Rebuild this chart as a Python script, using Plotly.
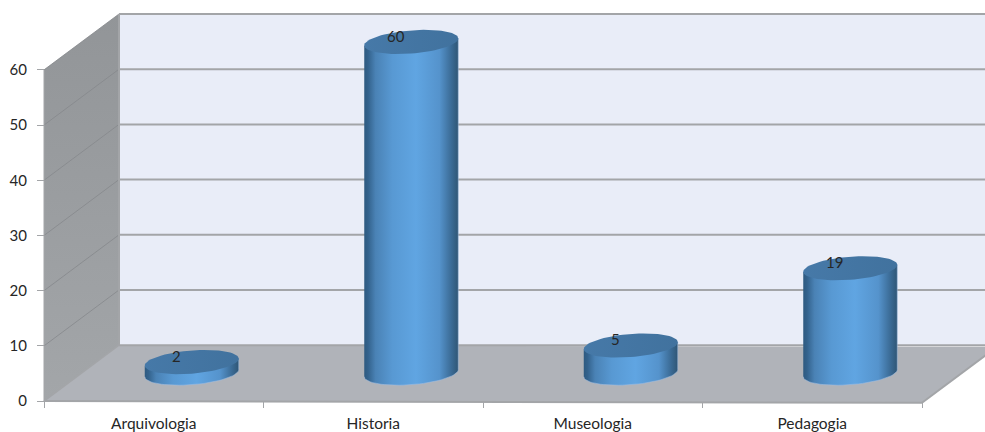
import numpy as np
import plotly.graph_objects as go

categories = ["Arquivologia", "Historia", "Museologia", "Pedagogia"]
values = [2, 60, 5, 19]
y_ticks = [0, 10, 20, 30, 40, 50, 60]

FONT = "Lato"
TEXT = "#262626"
EDGE = "#a3a5a8"

# depth of the fake 3d box, in axis units
DX = 75 / 219.5
DY = 56 / 5.533
# front edge of the floor leans a little
LEAN = -0.3
# cylinder ellipse, in axis units
RX = 47 / 219.5
RY = 11.6 / 5.533
TILT = 3.5 / 5.533

n = len(categories)
y_max = y_ticks[-1]
fig = go.Figure()


def poly(xs, ys, color=None, gradient=None, outline=None):
    trace = go.Scatter(x=xs, y=ys, mode="lines", fill="toself",
                       line=dict(width=1, color=outline) if outline else dict(width=0),
                       cliponaxis=False, hoverinfo="skip", showlegend=False)
    if gradient:
        trace.fillgradient = gradient
    else:
        trace.fillcolor = color
    fig.add_trace(trace)


def edge(xs, ys, color, width):
    fig.add_trace(go.Scatter(x=xs, y=ys, mode="lines", line=dict(color=color, width=width),
                             cliponaxis=False, hoverinfo="skip", showlegend=False))


# walls and floor
poly([DX, n + DX, n + DX, DX], [DY, DY, y_max + DY, y_max + DY], color="#e9edf8")
poly([0, DX, DX, 0], [0, DY, y_max + DY, y_max],
     gradient=dict(type="vertical", colorscale=[[0, "#a3a6a9"], [1, "#929598"]]))
poly([0, n, n + DX, DX], [0, LEAN, DY + LEAN, DY], color="#b0b3b9")

# grid lines
for v in y_ticks:
    if v > 0:
        edge([0, DX], [v, v + DY], "#85888b", 0.8)
    edge([DX, n + DX], [v + DY, v + DY], EDGE, 2)
edge([DX, DX], [DY, y_max + DY], EDGE, 2)
edge([0, DX], [0, DY], EDGE, 1.5)
edge([0, 0], [0, y_max], EDGE, 1)
edge([0, n], [0, LEAN], EDGE, 2)
edge([n, n + DX], [LEAN, DY + LEAN], EDGE, 2)

# cylinders
body_scale = [[0, "#2e5a80"], [0.04, "#33628c"], [0.12, "#4a82b5"], [0.3, "#5899d3"], [0.55, "#60a5e2"],
              [0.8, "#5593cc"], [0.93, "#3a6a94"], [1, "#2f5675"]]
top_scale = [[0, "#4679a8"], [1, "#41729e"]]
t_top = np.linspace(0, 2 * np.pi, 73)
t_low = np.linspace(np.pi, 2 * np.pi, 37)
label_x = []
label_y = []
for i, v in enumerate(values):
    cx = i + 0.5 + DX / 2 + 0.5 / 219.5
    base = DY / 2
    top = base + v
    low_x = cx + RX * np.cos(t_low)
    low_y = base + RY * np.sin(t_low) + TILT * np.cos(t_low)
    poly(list(low_x) + [cx + RX, cx - RX], list(low_y) + [top + TILT, top - TILT],
         gradient=dict(type="horizontal", colorscale=body_scale), outline="rgba(160,190,225,0.55)")
    poly(cx + RX * np.cos(t_top), top + RY * np.sin(t_top) + TILT * np.cos(t_top),
         gradient=dict(type="horizontal", colorscale=top_scale))
    label_x.append(cx - 15.5 / 219.5)
    label_y.append(top + 4 / 5.533)

fig.add_trace(go.Scatter(x=label_x, y=label_y, mode="text", text=[str(v) for v in values],
                         textposition="middle center", cliponaxis=False, hoverinfo="skip",
                         textfont=dict(family=FONT, size=15, color=TEXT), showlegend=False))

fig.update_layout(
    width=985, height=432, margin=dict(l=0, r=0, t=0, b=0),
    paper_bgcolor="white", plot_bgcolor="rgba(0,0,0,0)", showlegend=False,
    xaxis=dict(
        domain=[0, 1], range=[-44 / 219.5, (985 - 44) / 219.5], anchor="free", position=28 / 430,
        showgrid=False, zeroline=False, showline=False,
        tickmode="array", tickvals=[i + 0.5 for i in range(n)], ticktext=categories, ticks="",
        ticklabelstandoff=11, tickfont=dict(family=FONT, size=15.5, color=TEXT),
        minor=dict(tickmode="array", tickvals=list(range(n + 1)), ticks="outside", ticklen=6,
                   tickcolor=EDGE, tickwidth=1, showgrid=False),
    ),
    yaxis=dict(
        domain=[0, 1], range=[-28 / 5.533, 402 / 5.533], anchor="free", position=44 / 985,
        showgrid=False, zeroline=False, showline=False,
        tickmode="array", tickvals=y_ticks, ticks="outside", ticklen=7, tickcolor=EDGE,
        ticklabelstandoff=7, tickfont=dict(family=FONT, size=15, color=TEXT),
    ),
)

fig.write_html("out.html", config=dict(displayModeBar=False),
               post_script="document.body.style.margin='0';document.body.style.overflow='hidden';")
